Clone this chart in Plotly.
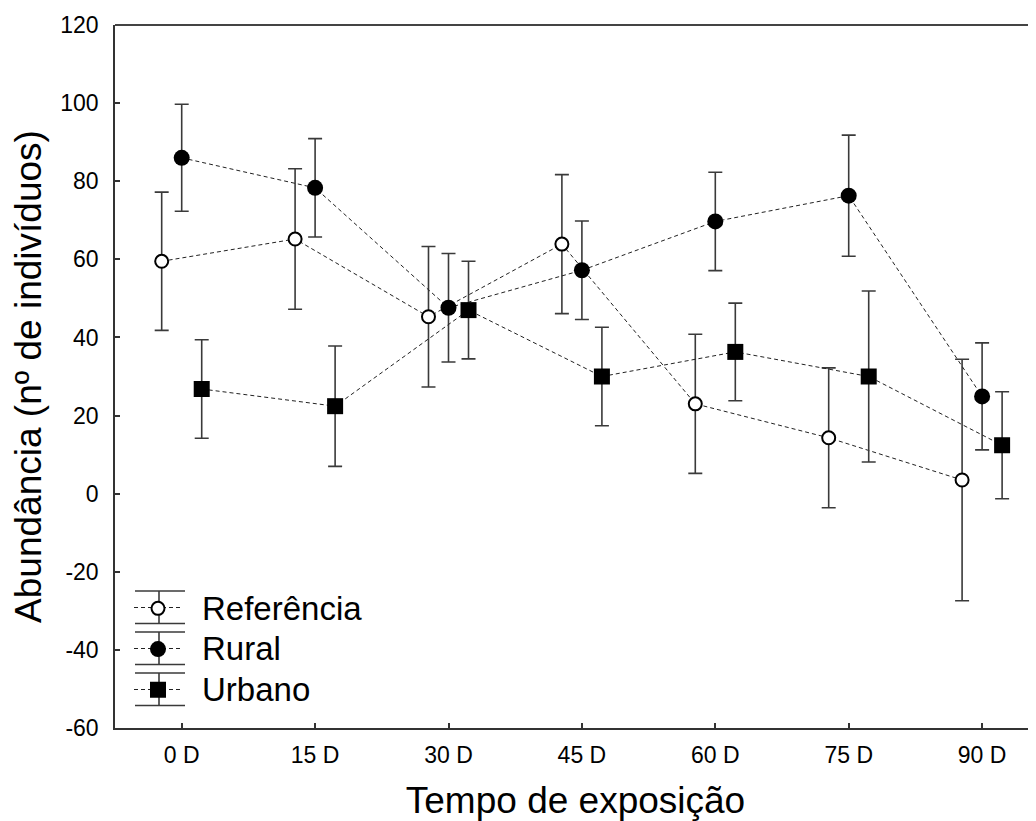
import plotly.graph_objects as go

# ---- data ----
categories = ["0 D", "15 D", "30 D", "45 D", "60 D", "75 D", "90 D"]
ref_mean = [59.5, 65.2, 45.3, 63.9, 23.0, 14.3, 3.5]
ref_err = [17.7, 18.0, 18.0, 17.8, 17.8, 17.9, 30.9]
rural_mean = [86.0, 78.3, 47.6, 57.2, 69.7, 76.3, 24.9]
rural_err = [13.7, 12.6, 13.9, 12.6, 12.6, 15.5, 13.7]
urb_mean = [26.8, 22.4, 47.0, 30.0, 36.3, 30.0, 12.4]
urb_err = [12.6, 15.4, 12.5, 12.6, 12.5, 21.9, 13.7]
y_ticks = [-60, -40, -20, 0, 20, 40, 60, 80, 100, 120]
y_ticklabels = ["-60", "-40", "-20", "0", "20", "40", "60", "80", "100", "120"]
series_names = ["Referência", "Rural", "Urbano"]

# page body has an 8px default margin: the figure is sized/positioned for it
OFF = 8
W, H = 1036 - OFF, 821 - OFF
ML, MR, MT, MB = 115 - OFF, 0, 25 - OFF, 93
FONT = "Arial, Liberation Sans, sans-serif"
AX = "#333333"
ERR = "#3a3a3a"
LINE = dict(color="#222222", width=1, dash="4px,3px")

idx = list(range(len(categories)))
offsets = [-0.15, 0.0, 0.15]

styles = [
    dict(symbol="circle", size=13, color="white", line=dict(color="black", width=2)),
    dict(symbol="circle", size=16, color="black", line=dict(color="black", width=0)),
    dict(symbol="square", size=16, color="black", line=dict(color="black", width=0)),
]
means = [ref_mean, rural_mean, urb_mean]
errs = [ref_err, rural_err, urb_err]

fig = go.Figure()
for k in range(3):
    fig.add_trace(go.Scatter(
        x=[i + offsets[k] for i in idx], y=means[k], name=series_names[k],
        legendgroup=series_names[k], showlegend=False,
        mode="lines+markers", line=LINE, marker=styles[k],
        error_y=dict(type="data", array=errs[k], visible=True, color=ERR,
                     thickness=1.6, width=7),
    ))
# legend entries (marker only; dashed line & error glyph drawn as shapes)
for k in range(3):
    fig.add_trace(go.Scatter(
        x=[None], y=[None], mode="markers", marker=styles[k],
        name='<span style="font-size:33px">' + series_names[k] + "</span>",
        legendgroup=series_names[k], showlegend=True,
    ))

pw = W - ML - MR
ph = H - MT - MB


def px_x(p):  # page pixel -> paper
    return (p - OFF - ML) / pw


def px_y(p):
    return (H - MB - (p - OFF)) / ph


shapes = [dict(type="line", xref="paper", yref="paper", x0=0, x1=1, y0=1, y1=1,
               line=dict(color="#444444", width=2))]
# legend glyphs: error bar + dashed connector
for cy in [607.5, 648.5, 689.5]:
    top, bot = cy - 16.5, cy + 16
    shapes.append(dict(type="line", xref="paper", yref="paper",
                       x0=px_x(159), x1=px_x(159), y0=px_y(top), y1=px_y(bot),
                       line=dict(color=ERR, width=1.6)))
    for yy in (top, bot):
        shapes.append(dict(type="line", xref="paper", yref="paper",
                           x0=px_x(135), x1=px_x(185), y0=px_y(yy), y1=px_y(yy),
                           line=dict(color=ERR, width=1.6)))
    shapes.append(dict(type="line", xref="paper", yref="paper",
                       x0=px_x(134), x1=px_x(180), y0=px_y(cy), y1=px_y(cy),
                       line=LINE))

fig.update_layout(
    width=W, height=H,
    margin=dict(l=ML, r=MR, t=MT, b=MB, pad=0),
    plot_bgcolor="white", paper_bgcolor="white",
    font=dict(family=FONT, color="black"),
    showlegend=True,
    legend=dict(x=px_x(114), y=px_y(583), xanchor="left", yanchor="top",
                font=dict(size=29, family=FONT, color="black"),
                bgcolor="rgba(0,0,0,0)", borderwidth=0, itemwidth=78,
                tracegroupgap=0),
    shapes=shapes,
    xaxis=dict(
        range=[-0.5, -0.5 + pw / 133.4],
        tickvals=idx, ticktext=categories, automargin=False,
        showline=True, linecolor=AX, linewidth=1.5,
        ticks="inside", ticklen=5, tickcolor=AX, tickwidth=1.5,
        showgrid=False, zeroline=False,
        tickfont=dict(size=23, family=FONT, color="black"),
        ticklabelstandoff=6,
        title=dict(text="Tempo de exposição",
                   font=dict(size=37, family=FONT, color="black"), standoff=30),
    ),
    yaxis=dict(
        range=[-60, 120], tickvals=y_ticks, ticktext=y_ticklabels, automargin=False,
        showline=True, linecolor=AX, linewidth=1.5,
        ticks="inside", ticklen=5, tickcolor=AX, tickwidth=1.5,
        showgrid=False, zeroline=False,
        tickfont=dict(size=23, family=FONT, color="black"),
        ticklabelstandoff=10,
        title=dict(text="Abundância (nº de indivíduos)",
                   font=dict(size=37, family=FONT, color="black"), standoff=14),
    ),
)

fig.write_html("out.html")
